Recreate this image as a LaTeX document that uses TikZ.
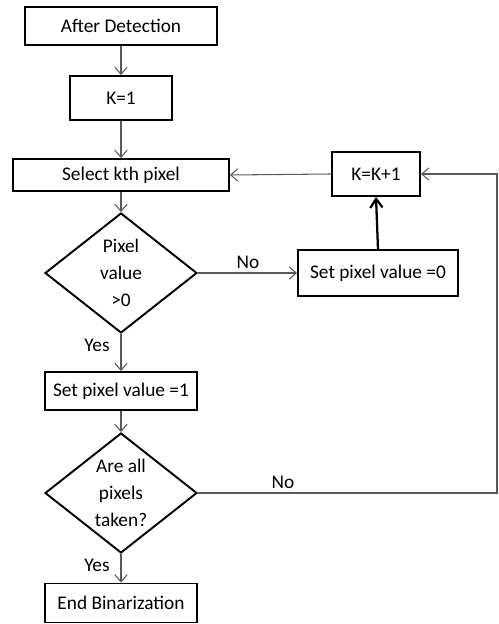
\documentclass[tikz,border=0pt]{standalone}
\usepackage{fontspec}
\setmainfont{Carlito}
\usetikzlibrary{shapes.geometric,arrows.meta}

\tikzset{
  box/.style={draw, rectangle, line width=1.1pt, inner sep=1pt, font=\fontsize{11}{15}\selectfont},
  decision/.style={draw, diamond, line width=1.1pt, aspect=1.27, inner sep=0pt, align=center,
    minimum width=3.04cm, minimum height=2.4cm, font=\fontsize{11}{15.5}\selectfont},
  flow/.style={draw=black!65, line width=0.6pt, -{Straight Barb[length=4pt,width=7pt]}},
  lbl/.style={font=\fontsize{11}{13}\selectfont}
}

\begin{document}
\begin{tikzpicture}[x=0.02cm, y=-0.02cm]
    \useasboundingbox (0,0) rectangle (499,624);

    % main column
    \node[box, minimum width=3.84cm, minimum height=0.76cm] (start) at (121,26) {After Detection};
    \node[box, minimum width=2.04cm, minimum height=0.88cm] (kone) at (121,98) {K=1};
    \node[box, minimum width=4.32cm, minimum height=0.64cm] (select) at (121,175) {Select kth pixel};
    \node[decision] (positive) at (121,273) {Pixel\\value\\>0};
    \node[box, minimum width=3.04cm, minimum height=0.76cm] (setone) at (121,391) {Set pixel value =1};
    \node[decision] (alltaken) at (121,493) {Are all\\pixels\\taken?};
    \node[box, minimum width=3.04cm, minimum height=0.78cm] (finish) at (121,603) {End Binarization};

    % right branch
    \node[box, minimum width=1.76cm, minimum height=0.88cm] (kinc) at (376,174) {K=K+1};
    \node[box, minimum width=3.2cm, minimum height=0.92cm] (setzero) at (378,273) {Set pixel value =0};
    \coordinate (corner) at (497,493);

    \draw[flow] (start) -- (kone);
    \draw[flow] (kone) -- (select);
    \draw[flow] (select) -- (positive);
    \draw[flow] (positive) -- (setone);
    \draw[flow] (setone) -- (alltaken);
    \draw[flow] (alltaken) -- (finish);
    \draw[flow] (positive.east) -- (setzero.west);
    \draw[line width=1.3pt, -{Straight Barb[length=5pt,width=7pt]}] (setzero.north) -- (kinc.south);
    \draw[flow] (kinc.west) -- (select.east);
    \draw[flow] (alltaken.east) -- (corner) |- (kinc.east);

    % labels
    \node[lbl] (nofirst) at (248,262) {No};
    \node[lbl] (yesfirst) at (97,345) {Yes};
    \node[lbl] (nosecond) at (283,482) {No};
    \node[lbl] (yessecond) at (97,565) {Yes};
\end{tikzpicture}
\end{document}
